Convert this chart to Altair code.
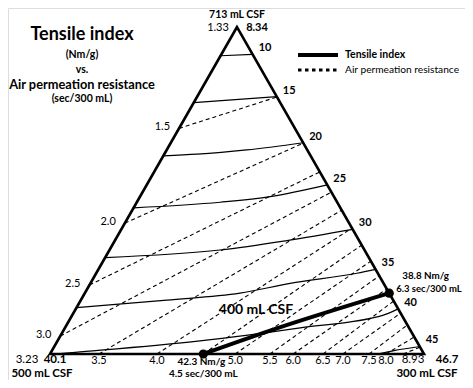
import altair as alt
import pandas as pd

FONT = "Lato"

# ---------------- data (compositions in % of 713 mL CSF pulp = t, % of 300 mL CSF pulp = r) -------------
vertex_names = ["713 mL CSF", "500 mL CSF", "300 mL CSF"]
vertex_t = [100.0, 0.0, 0.0]
vertex_r = [0.0, 0.0, 100.0]
vertex_tensile = ["8.34", "40.1", "46.7"]
vertex_air = ["1.33", "3.23", "8.93"]

tensile_levels = [10, 15, 20, 25, 30, 35, 40, 45]
tensile_t = [
    [91.2, 91.6],
    [76.9, 78.7],
    [60.6, 61.1, 62.4, 64.6],
    [44.7, 46.4, 48.1, 51.7],
    [29.5, 31.8, 34.7, 38.1],
    [14.2, 16.5, 18.6, 21.6, 24.7, 25.9],
    [0.0, 0.5, 4.0, 8.0, 11.9, 13.8],
    [0.0, 1.1, 2.3],
]
tensile_r = [
    [0.0, 8.4],
    [0.0, 21.3],
    [0.0, 8.8, 21.4, 35.4],
    [0.0, 22.3, 34.8, 48.3],
    [0.0, 29.6, 46.0, 61.9],
    [0.0, 23.0, 41.5, 53.4, 69.7, 74.1],
    [1.6, 6.5, 38.1, 62.9, 83.2, 86.2],
    [87.7, 91.7, 97.7],
]

air_levels = [1.5, 2.0, 2.5, 3.0, 3.5, 4.0, 4.5, 5.0, 5.5, 6.0, 6.5, 7.0, 7.5, 8.0, 8.5]
air_start_t = [69.0, 40.0, 21.1, 5.5, 0, 0, 0, 0, 0, 0, 0, 0, 0, 0, 0]
air_start_r = [0, 0, 0, 0, 13.1, 28.6, 41.0, 49.5, 58.8, 65.0, 73.0, 78.3, 85.3, 89.8, 94.4]
air_end_t = [78.6, 64.5, 55.7, 49.5, 44.0, 38.5, 33.3, 28.4, 23.9, 19.9, 16.2, 12.5, 8.9, 5.2, 2.1]
air_labelled_left = [1.5, 2.0, 2.5, 3.0]
air_labelled_bottom = [3.5, 4.0, 5.0, 5.5, 6.0, 6.5, 7.0, 7.5, 8.0]

blend_t = [0.0, 7.3, 18.6]
blend_r = [41.0, 55.6, 81.4]
dot_t = [0.0, 18.6]
dot_r = [41.0, 81.4]
dot_tensile = ["42.3 Nm/g", "38.8 Nm/g"]
dot_air = ["4.5 sec/300 mL", "6.3 sec/300 mL"]


def to_uv(t, r):
    return (r + t / 2.0) / 100.0, t / 100.0


# ---------------- frames ----------------
tri_rows = []
for i, (t, r) in enumerate(zip(vertex_t, vertex_r)):
    u, v = to_uv(t, r)
    tri_rows.append({"idx": i, "u": u, "v": v, "name": vertex_names[i],
                     "tens": vertex_tensile[i], "air": vertex_air[i]})
tri_df = pd.DataFrame(tri_rows)

ten_rows, ten_end = [], []
for lvl, ts, rs in zip(tensile_levels, tensile_t, tensile_r):
    for j, (t, r) in enumerate(zip(ts, rs)):
        u, v = to_uv(t, r)
        ten_rows.append({"level": lvl, "idx": j, "u": u, "v": v})
    u, v = to_uv(ts[-1], rs[-1])
    ten_end.append({"label": str(lvl), "u": u, "v": v})
ten_df = pd.DataFrame(ten_rows)
ten_end_df = pd.DataFrame(ten_end)

air_rows = []
for lvl, st, sr, et in zip(air_levels, air_start_t, air_start_r, air_end_t):
    u0, v0 = to_uv(st, sr)
    u1, v1 = to_uv(et, 100.0 - et)
    air_rows.append({"level": lvl, "label": f"{lvl:.1f}", "u0": u0, "v0": v0, "u1": u1, "v1": v1})
air_df = pd.DataFrame(air_rows)
air_left_df = air_df[air_df["level"].isin(air_labelled_left)]
air_bottom_df = air_df[air_df["level"].isin(air_labelled_bottom)]

blend_df = pd.DataFrame([{"idx": i, "u": to_uv(t, r)[0], "v": to_uv(t, r)[1]}
                         for i, (t, r) in enumerate(zip(blend_t, blend_r))])
dot_df = pd.DataFrame([{"u": to_uv(t, r)[0], "v": to_uv(t, r)[1], "tens": a, "air": b}
                       for t, r, a, b in zip(dot_t, dot_r, dot_tensile, dot_air)])

# ---------------- scales ----------------
XS = alt.Scale(domain=[-0.1123, 1.1096], nice=False, zero=False)
YS = alt.Scale(domain=[-0.0795, 1.0581], nice=False, zero=False)
X = lambda f: alt.X(f"{f}:Q", scale=XS, axis=None)
Y = lambda f: alt.Y(f"{f}:Q", scale=YS, axis=None)

base_txt = dict(font=FONT, color="black")

layers = []

layers.append(alt.Chart(air_df).mark_rule(strokeDash=[4, 3], strokeWidth=1.1, color="black").encode(
    x=X("u0"), y=Y("v0"), x2="u1", y2="v1"))

layers.append(alt.Chart(ten_df).mark_line(interpolate="monotone", strokeWidth=1.2, color="black").encode(
    x=X("u"), y=Y("v"), detail="level:N", order="idx:Q"))

layers.append(alt.Chart(tri_df).mark_line(interpolate="linear-closed", strokeWidth=2.6, color="black",
                                          strokeJoin="miter").encode(
    x=X("u"), y=Y("v"), order="idx:Q"))

layers.append(alt.Chart(blend_df).mark_line(interpolate="monotone", strokeWidth=4, color="black").encode(
    x=X("u"), y=Y("v"), order="idx:Q"))

layers.append(alt.Chart(dot_df).mark_circle(size=85, opacity=1, color="black").encode(
    x=X("u"), y=Y("v")))

# contour labels
layers.append(alt.Chart(ten_end_df).mark_text(align="left", baseline="middle", dx=6, dy=-6,
                                              fontSize=11, fontWeight="bold", **base_txt).encode(
    x=X("u"), y=Y("v"), text="label:N"))
layers.append(alt.Chart(air_left_df).mark_text(align="right", baseline="middle", dx=-9, dy=-1,
                                               fontSize=11, **base_txt).encode(
    x=X("u0"), y=Y("v0"), text="label:N"))
layers.append(alt.Chart(air_bottom_df).mark_text(align="center", baseline="top", dy=1,
                                                 fontSize=11, **base_txt).encode(
    x=X("u0"), y=Y("v0"), text="label:N"))

# vertex labels
vertex_specs = [
    # (vertex index, field, dx, dy, weight, size)
    (0, "name", 0, -12, "bold", 10.5), (0, "air", -19, 1, "normal", 11), (0, "tens", 20, 1, "bold", 11),
    (1, "name", -8, 20, "bold", 11.5), (1, "air", -23, 6, "normal", 11.5), (1, "tens", 5, 6, "bold", 11.5),
    (2, "name", 3, 20, "bold", 11.5), (2, "air", -11, 6, "normal", 11.5), (2, "tens", 23, 6, "bold", 11.5),
]
for vi, field, dx, dy, wt, sz in vertex_specs:
    layers.append(alt.Chart(tri_df[tri_df["idx"] == vi]).mark_text(
        align="center", baseline="middle", dx=dx, dy=dy, fontSize=sz, fontWeight=wt, **base_txt).encode(
        x=X("u"), y=Y("v"), text=f"{field}:N"))

# dot labels
d0 = dot_df.iloc[[0]]
d1 = dot_df.iloc[[1]]
layers.append(alt.Chart(d0).mark_text(align="center", baseline="middle", dx=-2, dy=8, fontSize=10,
                                      fontWeight="bold", **base_txt).encode(x=X("u"), y=Y("v"), text="tens:N"))
layers.append(alt.Chart(d0).mark_text(align="center", baseline="middle", dy=20, fontSize=10,
                                      fontWeight="bold", **base_txt).encode(x=X("u"), y=Y("v"), text="air:N"))
layers.append(alt.Chart(d1).mark_text(align="left", baseline="middle", dx=13, dy=-17, fontSize=9.8,
                                      fontWeight="bold", **base_txt).encode(x=X("u"), y=Y("v"), text="tens:N"))
layers.append(alt.Chart(d1).mark_text(align="left", baseline="middle", dx=7, dy=-4, fontSize=9.5,
                                      fontWeight="bold", **base_txt).encode(x=X("u"), y=Y("v"), text="air:N"))

# annotations (title block, region label, legend)
ann = pd.DataFrame({"k": [0]})
def note(txt, x, y, size, weight="bold", align="center"):
    return alt.Chart(ann).mark_text(text=txt, fontSize=size, fontWeight=weight, align=align,
                                    baseline="middle", **base_txt).encode(x=alt.value(x), y=alt.value(y))

layers += [
    note("Tensile index", 74, 27, 18),
    note("(Nm/g)", 74, 47, 10.5),
    note("vs.", 74, 62, 10.5),
    note("Air permeation resistance", 74, 77, 12.8),
    note("(sec/300 mL)", 74, 91, 10.5),
    note("400 mL CSF", 248, 302, 14),
    note("Tensile index", 337, 47, 10.5, "bold", "left"),
    note("Air permeation resistance", 337, 62, 10.2, "normal", "left"),
]
layers.append(alt.Chart(ann).mark_rule(strokeWidth=4, color="black").encode(
    x=alt.value(290), x2=alt.value(330), y=alt.value(47)))
layers.append(alt.Chart(ann).mark_rule(strokeWidth=3, color="black", strokeDash=[3.5, 3.5]).encode(
    x=alt.value(290), x2=alt.value(331), y=alt.value(62)))

chart = alt.layer(*layers).properties(
    width=457, height=372, autosize=alt.AutoSizeParams(type="none"), padding=0
).configure_view(stroke=None).configure(background="white")

chart.save("out.html", embed_options={"renderer": "svg", "actions": False})
